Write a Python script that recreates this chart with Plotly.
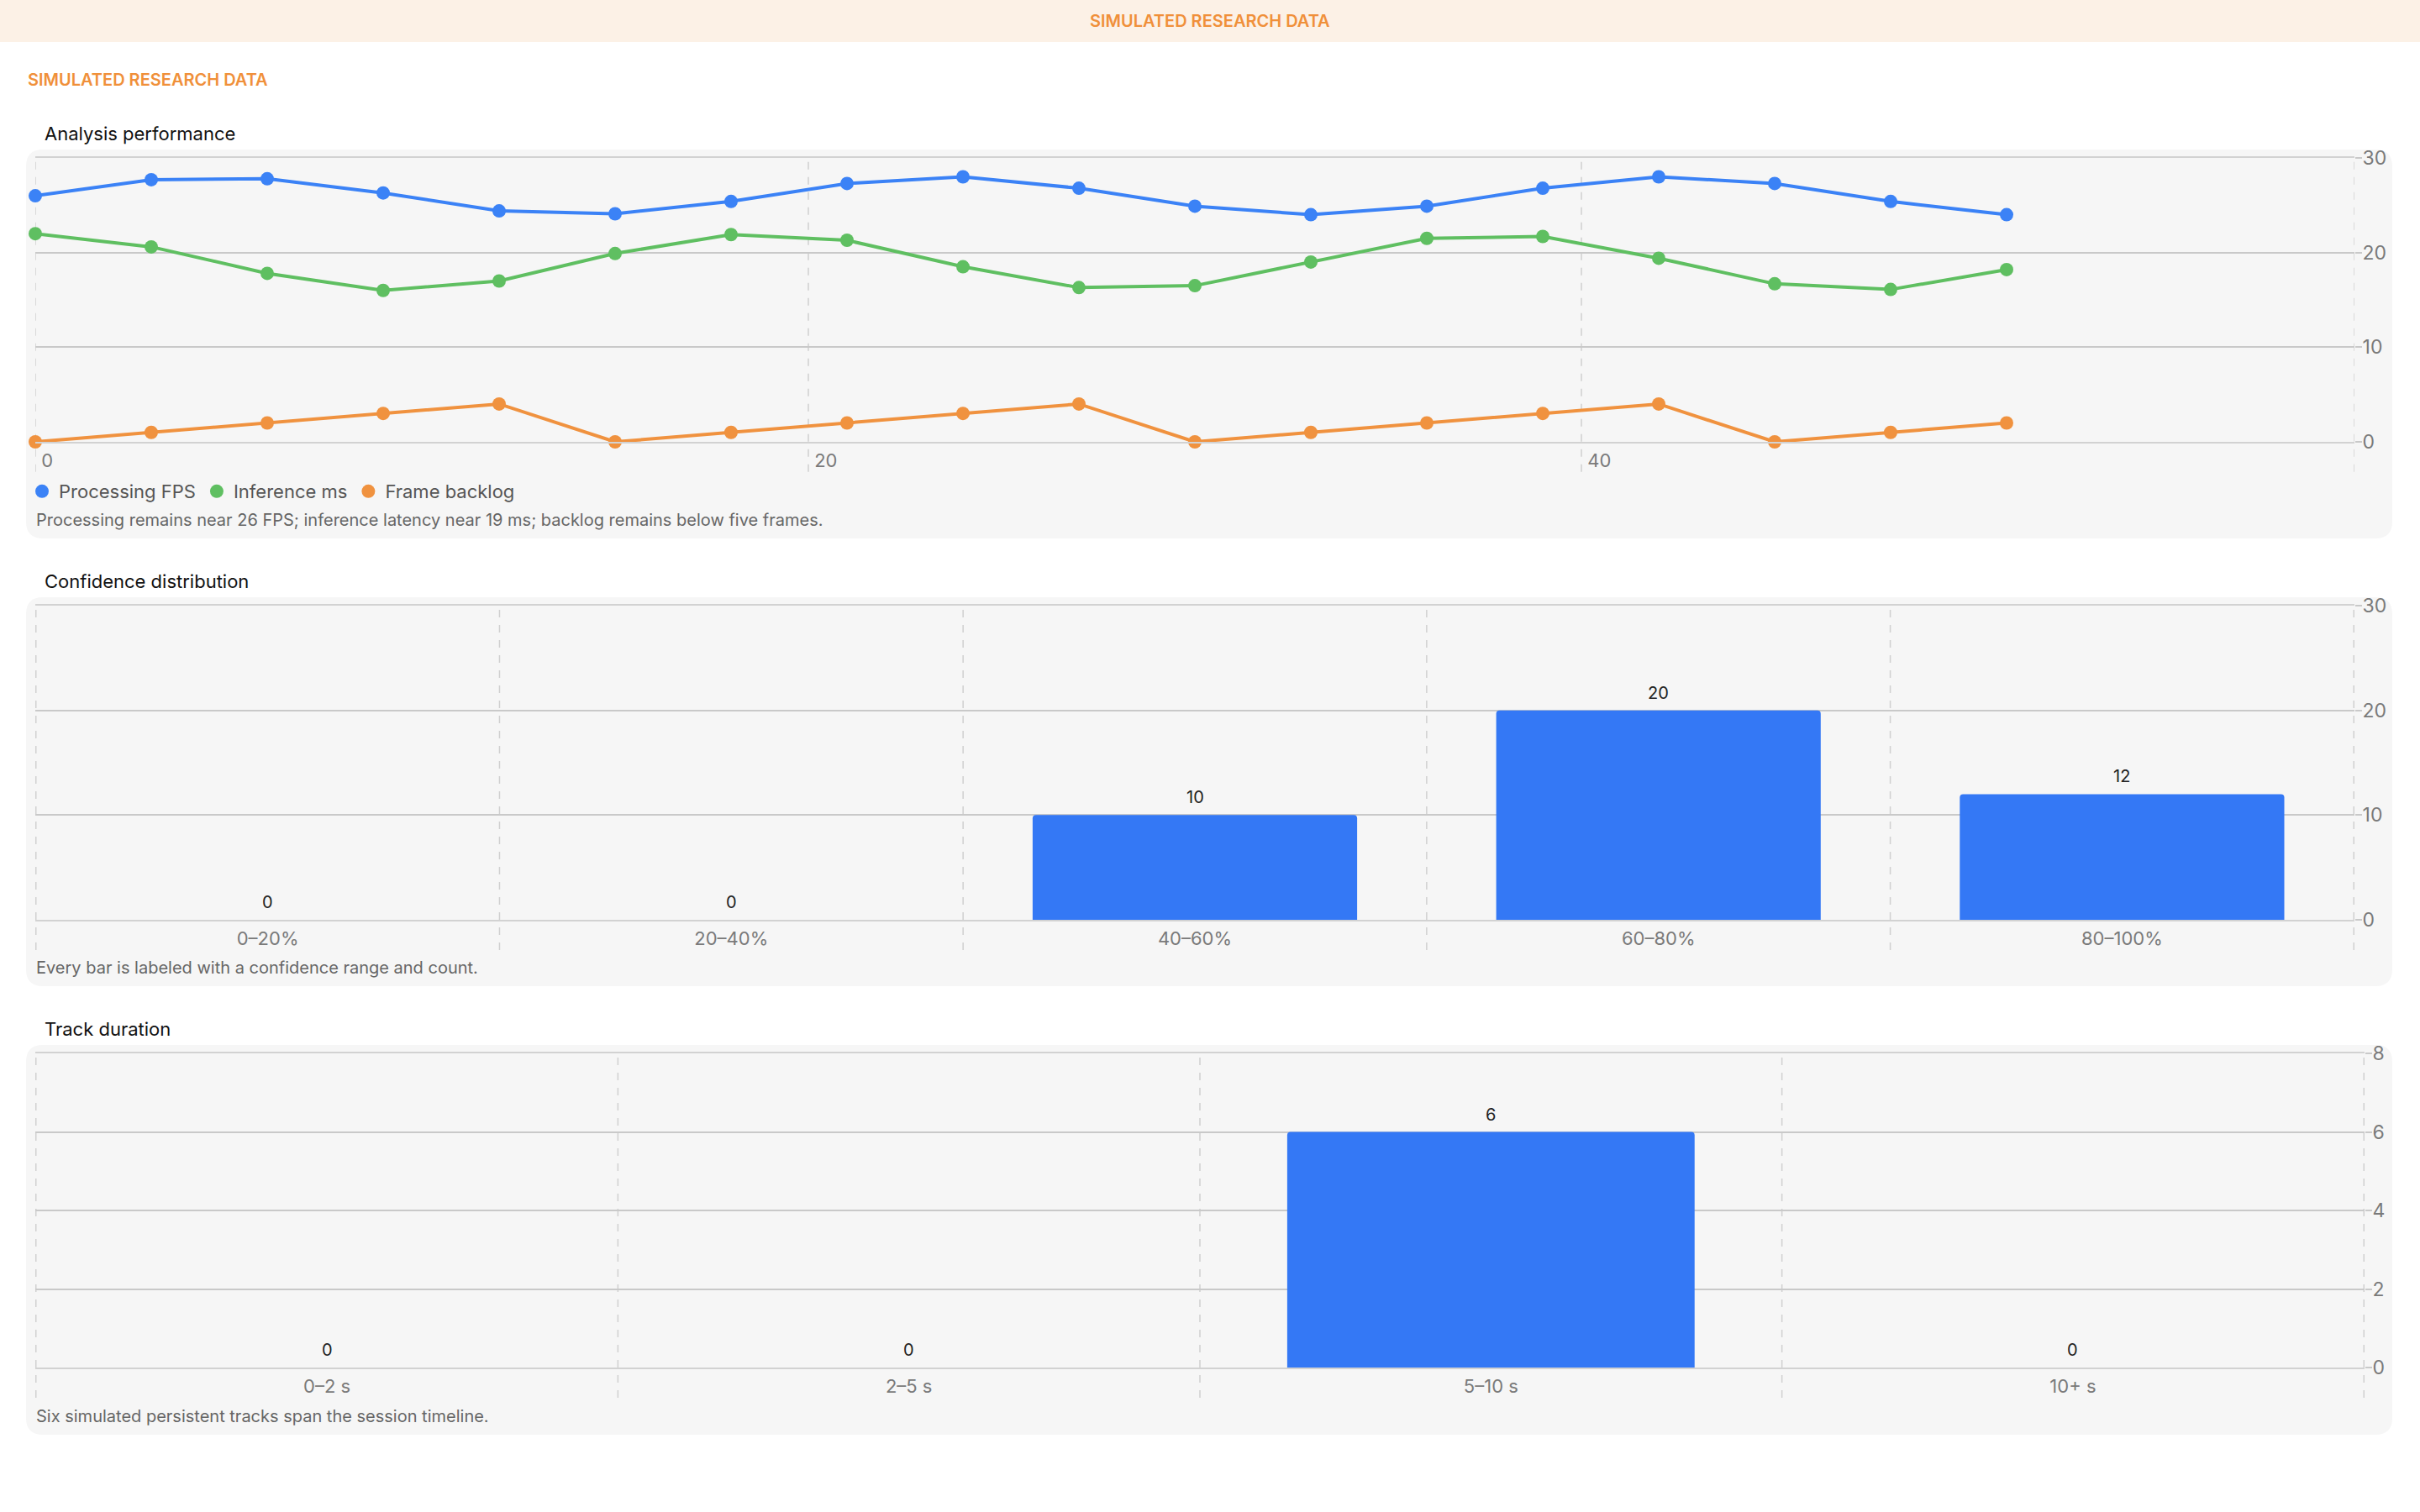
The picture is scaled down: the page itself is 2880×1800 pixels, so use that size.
import plotly.graph_objects as go

# page is drawn at full size, everything below is in px of a 2880x1800 page
W, H = 2880, 1800

# --- data -------------------------------------------------------------
frame_index = [0, 3, 6, 9, 12, 15, 18, 21, 24, 27, 30, 33, 36, 39, 42, 45, 48, 51]
processing_fps = [26.0, 27.7, 27.8, 26.3, 24.4, 24.1, 25.4, 27.3, 28.0,
                  26.8, 24.9, 24.0, 24.9, 26.8, 28.0, 27.3, 25.4, 24.0]
inference_ms = [22.0, 20.6, 17.8, 16.0, 17.0, 19.9, 21.9, 21.3, 18.5,
                16.3, 16.5, 19.0, 21.5, 21.7, 19.4, 16.7, 16.1, 18.2]
frame_backlog = [0, 1, 2, 3, 4, 0, 1, 2, 3, 4, 0, 1, 2, 3, 4, 0, 1, 2]
frame_ticks = [0, 20, 40, 60]
frame_tick_labels = ["0", "20", "40", ""]

confidence_bins = ["0–20%", "20–40%", "40–60%", "60–80%", "80–100%"]
confidence_counts = [0, 0, 10, 20, 12]

duration_bins = ["0–2 s", "2–5 s", "5–10 s", "10+ s"]
duration_counts = [0, 0, 6, 0]

# --- style ------------------------------------------------------------
FONT = "Inter, Roboto, sans-serif"
BLUE = "#3b82f6"
GREEN = "#5fbf61"
ORANGE = "#f0923f"
BAR_BLUE = "#3478f5"
CARD_BG = "#f6f6f6"
HGRID = "#c9c9c9"
VGRID = "#d0d0d0"
TICK_GREY = "#7a7a7a"
ACCENT = "#f0903a"


def fx(px):
    return px / W


def fy(px):
    return 1 - px / H


def rounded_rect(x0, y0, x1, y1, r):
    """Rounded rectangle path in paper coords, built from px."""
    pts = [
        ("M", x0 + r, y0), ("L", x1 - r, y0), ("Q", x1, y0, x1, y0 + r),
        ("L", x1, y1 - r), ("Q", x1, y1, x1 - r, y1), ("L", x0 + r, y1),
        ("Q", x0, y1, x0, y1 - r), ("L", x0, y0 + r), ("Q", x0, y0, x0 + r, y0),
    ]
    out = []
    for p in pts:
        if p[0] == "Q":
            out.append(f"Q{fx(p[1])},{fy(p[2])} {fx(p[3])},{fy(p[4])}")
        else:
            out.append(f"{p[0]}{fx(p[1])},{fy(p[2])}")
    return " ".join(out) + " Z"


fig = go.Figure()

# Analysis performance lines
for name, vals, col in [("Processing FPS", processing_fps, BLUE),
                        ("Inference ms", inference_ms, GREEN),
                        ("Frame backlog", frame_backlog, ORANGE)]:
    fig.add_trace(go.Scatter(x=frame_index, y=vals, mode="lines+markers",
                             line=dict(color=col, width=4),
                             marker=dict(size=16, color=col),
                             cliponaxis=False, showlegend=False,
                             xaxis="x", yaxis="y"))
    # dot-only legend entry
    fig.add_trace(go.Scatter(x=[None], y=[None], mode="markers", name=name,
                             marker=dict(size=16, color=col),
                             xaxis="x", yaxis="y"))

# Confidence distribution + Track duration bars
bar_labels = []
for bins, counts, xa, ya in [(confidence_bins, confidence_counts, "x2", "y2"),
                             (duration_bins, duration_counts, "x3", "y3")]:
    fig.add_trace(go.Bar(x=bins, y=counts, marker_color=BAR_BLUE,
                         marker_cornerradius=4, marker_line_width=0,
                         showlegend=False, xaxis=xa, yaxis=ya))
    for b, c in zip(bins, counts):
        bar_labels.append(dict(text=str(c), x=b, y=c, xref=xa, yref=ya,
                               yanchor="middle", yshift=21, showarrow=False,
                               font=dict(size=20, color="#222")))

xcommon = dict(showgrid=False, zeroline=False, showline=True, mirror=True,
               linecolor="#d2d2d2", linewidth=2, ticks="", ticklabelstandoff=2,
               automargin=False,
               tickfont=dict(size=22, color=TICK_GREY, family=FONT))
ycommon = dict(side="right", showgrid=True, gridcolor=HGRID, gridwidth=1.5,
               zeroline=False, showline=False, ticks="outside", ticklen=8,
               tickcolor=HGRID, tickwidth=1.5, ticklabelstandoff=-4,
               automargin=False,
               tickfont=dict(size=23, color=TICK_GREY, family=FONT))

fig.update_layout(
    xaxis=dict(domain=[fx(42), fx(2802)], range=[0, 60], tickvals=frame_ticks,
               # small nbsp pad so the labels sit just right of the grid line
               ticktext=["\u00a0" + t for t in frame_tick_labels],
               ticklabelposition="outside right",
               anchor="y", **xcommon),
    yaxis=dict(domain=[fy(526), fy(188)], range=[0, 30], dtick=10, anchor="x", **ycommon),
    xaxis2=dict(domain=[fx(42), fx(2802)], type="category", anchor="y2", **xcommon),
    yaxis2=dict(domain=[fy(1095), fy(721)], range=[0, 30], dtick=10, anchor="x2", **ycommon),
    xaxis3=dict(domain=[fx(42), fx(2814)], type="category", anchor="y3", **xcommon),
    yaxis3=dict(domain=[fy(1628), fy(1254)], range=[0, 8], dtick=2, anchor="x3", **ycommon),
    bargap=0.3,
    width=W, height=H, autosize=False,
    margin=dict(l=0, r=0, t=0, b=0, pad=0, autoexpand=False),
    paper_bgcolor="white", plot_bgcolor="rgba(0,0,0,0)",
    font=dict(family=FONT),
    legend=dict(orientation="h", x=fx(30), y=fy(585), xanchor="left", yanchor="middle",
                font=dict(size=22, color="#555", family=FONT), bgcolor="rgba(0,0,0,0)",
                itemwidth=30),
)

shapes = [
    dict(type="rect", xref="paper", yref="paper", x0=0, x1=1, y0=fy(50), y1=1,
         fillcolor="#fcf1e6", line=dict(width=0), layer="below"),
]
# cards
for top, bottom in [(178, 641), (711, 1174), (1244, 1708)]:
    shapes.append(dict(type="path", xref="paper", yref="paper",
                       path=rounded_rect(31, top, 2847, bottom, 20),
                       fillcolor=CARD_BG, line=dict(width=0), layer="below"))
# dashed vertical grid, running a little below each baseline
for xr, yr, xs, ext in [("x", "y domain", frame_ticks, -0.106),
                        ("x2", "y2 domain", [-0.5, 0.5, 1.5, 2.5, 3.5, 4.5], -0.096),
                        ("x3", "y3 domain", [-0.5, 0.5, 1.5, 2.5, 3.5], -0.096)]:
    for xv in xs:
        shapes.append(dict(type="line", xref=xr, yref=yr, x0=xv, x1=xv, y0=ext, y1=1,
                           line=dict(color=VGRID, width=1.5, dash="dash"), layer="below"))
fig.update_layout(shapes=shapes)

annotations = [
    dict(text="SIMULATED RESEARCH DATA", x=0.5, y=fy(25), xanchor="center", yanchor="middle",
         font=dict(size=20, color=ACCENT, family=FONT, weight=600)),
    dict(text="SIMULATED RESEARCH DATA", x=fx(31), y=fy(95), xanchor="left", yanchor="middle",
         font=dict(size=20, color=ACCENT, family=FONT, weight=600)),
    dict(text="Analysis performance", x=fx(51), y=fy(159), xanchor="left", yanchor="middle",
         font=dict(size=22, color="#111")),
    dict(text="Processing remains near 26 FPS; inference latency near 19 ms; backlog remains below five frames.",
         x=fx(41), y=fy(619), xanchor="left", yanchor="middle",
         font=dict(size=20, color="#666")),
    dict(text="Confidence distribution", x=fx(51), y=fy(692), xanchor="left", yanchor="middle",
         font=dict(size=22, color="#111")),
    dict(text="Every bar is labeled with a confidence range and count.",
         x=fx(41), y=fy(1152), xanchor="left", yanchor="middle",
         font=dict(size=20, color="#666")),
    dict(text="Track duration", x=fx(51), y=fy(1225), xanchor="left", yanchor="middle",
         font=dict(size=22, color="#111")),
    dict(text="Six simulated persistent tracks span the session timeline.",
         x=fx(41), y=fy(1686), xanchor="left", yanchor="middle",
         font=dict(size=20, color="#666")),
]
for a in annotations:
    a.update(xref="paper", yref="paper", showarrow=False)
fig.update_layout(annotations=annotations + bar_labels)

# pin the figure to the window's top-left corner, no page margin or scrolling
pin = ("document.body.style.margin='0';document.body.style.overflow='hidden';"
       "var gd=document.getElementById('{plot_id}');"
       "gd.style.position='fixed';gd.style.top='0px';gd.style.left='0px';")
fig.write_html("out.html", config={"displayModeBar": False}, post_script=pin)
